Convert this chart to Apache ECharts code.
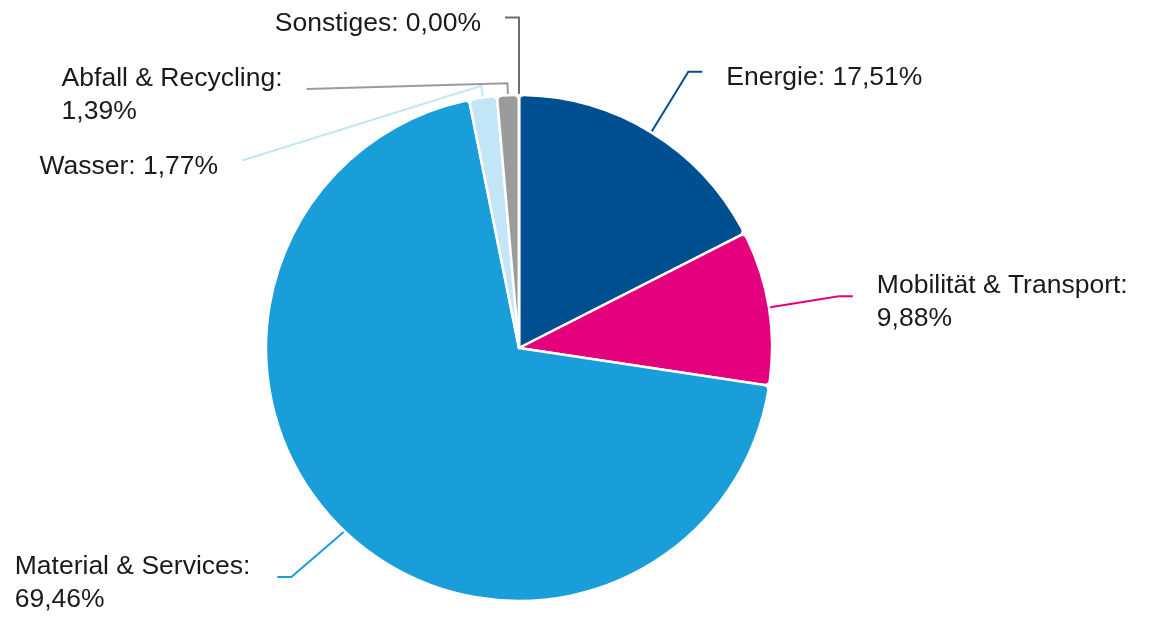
<!DOCTYPE html>
<html>
<head>
<meta charset="utf-8">
<script src="https://cdn.jsdelivr.net/npm/echarts@6/dist/echarts.min.js"></script>
<style>
html,body{margin:0;padding:0;background:#ffffff;overflow:hidden;width:1152px;height:617px;}
#chart{width:1152px;height:627px;margin-top:-10px;}
</style>
</head>
<body>
<div id="chart"></div>
<script>
const categories = ['Energie', 'Mobilität & Transport', 'Material & Services', 'Wasser', 'Abfall & Recycling', 'Sonstiges'];
const shares = [17.51, 9.88, 69.46, 1.77, 1.39, 0.00];
const colors = ['#004f90', '#e5007d', '#1a9ed9', '#c2e6f8', '#9b9b9b', '#6e6e6e'];
const lineLengths = [71, 71, 77, 95, 104, 130];
const labelGaps = [24, 24, 27, 24, 24, 24];

// canvas is shifted up by 10px so the top label row can sit close to the edge
const PIE_CX = 519, PIE_CY = 358;

const chart = echarts.init(document.getElementById('chart'), null, {renderer: 'canvas'});
const data = categories.map((c, i) => ({
  name: c, value: shares[i],
  itemStyle: {color: colors[i]},
  label: {distanceToLabelLine: labelGaps[i]},
  labelLine: {length: lineLengths[i]}
}));

chart.setOption({
  backgroundColor: '#ffffff',
  animation: false,
  series: [{
    type: 'pie',
    left: 0,
    top: 0,
    bottom: -4,
    center: [PIE_CX, PIE_CY],
    radius: 253,
    startAngle: 90,
    clockwise: true,
    data: data,
    itemStyle: {borderColor: '#ffffff', borderWidth: 2.5, borderRadius: 5},
    label: {
      show: true,
      fontSize: 26.5,
      lineHeight: 33,
      color: '#1a1a1a',
      fontFamily: 'Liberation Sans',
      formatter: function (p) {
        const v = p.value.toFixed(2).replace('.', ',') + '%';
        const wrap = p.name.length > 12;
        return '{t|' + p.name + ':' + (wrap ? '}\n{t|' : ' ') + v + '}';
      },
      rich: {t: {fontSize: 26.5, lineHeight: 33, color: '#1a1a1a', fontFamily: 'Liberation Sans', align: 'left'}},
      padding: [16, 0, 4, 0],
      distanceToLabelLine: 24
    },
    labelLine: {show: true, length: 71, length2: 14, lineStyle: {width: 2}},
    labelLayout: function (params) {
      const pts = params.labelLinePoints;
      if (!pts || pts.length < 3) return {};
      const p0 = pts[0], p1 = pts[1], p2 = pts[2];
      const ux = p0[0] - PIE_CX, uy = p0[1] - PIE_CY;
      const ul = Math.sqrt(ux * ux + uy * uy) || 1;
      const vx = p1[0] - p0[0], vy = p1[1] - p0[1];
      const vl = Math.sqrt(vx * vx + vy * vy) || 1;
      const cos = (ux * vx + uy * vy) / (ul * vl);
      if (cos > 0.94) return {};
      const stub = 12;
      return {labelLinePoints: [p0, [p0[0] + ux / ul * stub, p0[1] + uy / ul * stub], p2]};
    }
  }]
});
</script>
</body>
</html>
